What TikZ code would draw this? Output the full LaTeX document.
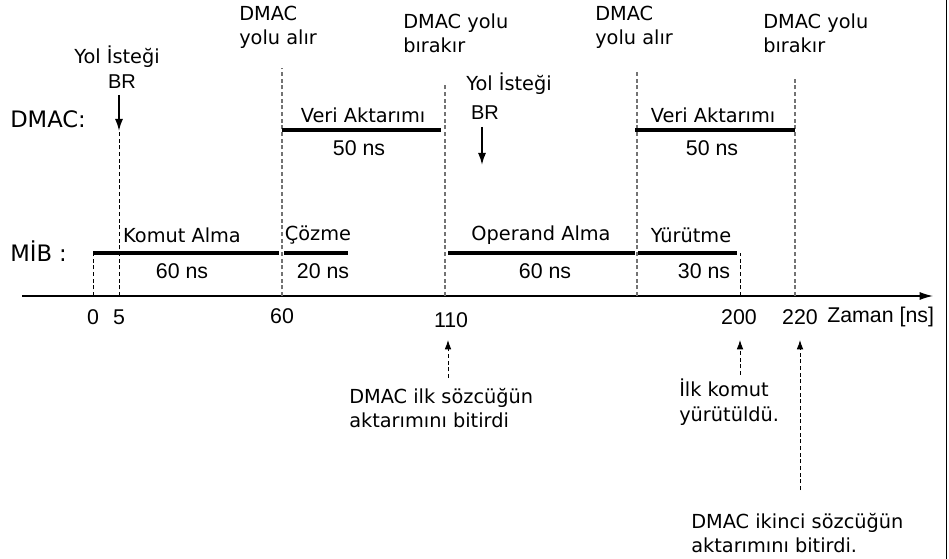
\documentclass[tikz,border=0pt]{standalone}
\usepackage{fontspec}
\newfontfamily\comicf{DejaVu Sans}
\newfontfamily\arialf{Liberation Sans}
\usetikzlibrary{arrows.meta}
\begin{document}
\begin{tikzpicture}[x=0.75pt,y=-0.75pt,
  lab/.style={font=\comicf\fontsize{14.5}{18}\selectfont, inner sep=0pt, align=left},
  rowlab/.style={font=\comicf\fontsize{17}{20}\selectfont, inner sep=0pt, anchor=west},
  num/.style={font=\arialf\fontsize{16}{18}\selectfont, inner sep=0pt},
  bar/.style={line width=3pt},
  gdash/.style={draw=black!55, dash pattern=on 3pt off 2pt, line width=0.8pt},
  bdash/.style={draw=black, dash pattern=on 3pt off 2pt, line width=0.7pt},
  brarrow/.style={-{Latex[length=9pt,width=6pt]}, line width=1.3pt},
  uparrow/.style={-{Latex[length=7pt,width=5pt]}, dash pattern=on 3pt off 2pt, line width=0.7pt},
]
\useasboundingbox (0,0) rectangle (949,559);
\draw[line width=0.8pt] (946.5,0) -- (946.5,559);

% axis
\coordinate (axL) at (22,296);
\coordinate (axR) at (933,296);
\draw[-{Latex[length=10pt,width=6pt]}, line width=0.9pt] (axL) -- (axR);

% axis points
\coordinate (t0) at (93,296);
\coordinate (t5) at (119,296);
\coordinate (t60) at (282,296);
\coordinate (t110) at (445,296);
\coordinate (t170) at (637,296);
\coordinate (t200) at (740,296);
\coordinate (t220) at (795,296);
% upper ends of the vertical guides
\coordinate (u0) at (93,253);
\coordinate (u5) at (119,131);
\coordinate (u60) at (282,68);
\coordinate (u110) at (445,85);
\coordinate (u170) at (637,70);
\coordinate (u200) at (740,253);
\coordinate (u220) at (795,78);

\draw[bdash] (t0) -- (u0);
\draw[bdash] (t5) -- (u5);
\draw[gdash] (t60) -- (u60);
\draw[gdash] (t110) -- (u110);
\draw[gdash] (t170) -- (u170);
\draw[bdash] (t200) -- (u200);
\draw[gdash] (t220) -- (u220);

% tick labels
\node[num] (n0) at (93,317) {0};
\node[num] (n5) at (119,317) {5};
\node[num] (n60) at (282,316) {60};
\node[num] (n110) at (451,320) {110};
\node[num] (n200) at (739,317) {200};
\node[num] (n220) at (800,317) {220};
\node[num, anchor=west] (zaman) at (827,317) {Zaman [ns]};

% row labels
\node[rowlab] (dmac) at (10,119) {DMAC:};
\node[rowlab] (mib) at (10,251) {MİB :};

% MIB bars
\coordinate (m1a) at (93,253);  \coordinate (m1b) at (279,253);
\coordinate (m2a) at (284,253); \coordinate (m2b) at (348,253);
\coordinate (m3a) at (448,253); \coordinate (m3b) at (635,253);
\coordinate (m4a) at (638,253); \coordinate (m4b) at (737,253);
\draw[bar] (m1a) -- (m1b);
\draw[bar] (m2a) -- (m2b);
\draw[bar] (m3a) -- (m3b);
\draw[bar] (m4a) -- (m4b);

\node[lab] (komut) at (182,235) {Komut Alma};
\node[num] (k60) at (182,271) {60 ns};
\node[lab] (cozme) at (318,235) {Çözme};
\node[num] (c20) at (323,271) {20 ns};
\node[lab] (operand) at (541,235) {Operand Alma};
\node[num] (o60) at (545,271) {60 ns};
\node[lab] (yurut) at (691,235) {Yürütme};
\node[num] (y30) at (704,271) {30 ns};

% DMAC bars
\coordinate (d1a) at (282,130); \coordinate (d1b) at (441,130);
\coordinate (d2a) at (635,130); \coordinate (d2b) at (795,130);
\draw[bar] (d1a) -- (d1b);
\draw[bar] (d2a) -- (d2b);
\node[lab] (veri1) at (363,115) {Veri Aktarımı};
\node[num] (v50a) at (359,148) {50 ns};
\node[lab] (veri2) at (713,115) {Veri Aktarımı};
\node[num] (v50b) at (712,148) {50 ns};

% bus requests
\node[lab] (yol1) at (117,57) {Yol İsteği};
\node[num, font=\arialf\fontsize{15}{18}\selectfont] (br1) at (122,82) {BR};
\coordinate (a1s) at (119,95);
\coordinate (a1e) at (119,131);
\draw[brarrow] (a1s) -- (a1e);
\node[lab] (yol2) at (509,84) {Yol İsteği};
\node[num, font=\arialf\fontsize{15}{18}\selectfont] (br2) at (485,113) {BR};
\coordinate (a2s) at (482,127);
\coordinate (a2e) at (482,165);
\draw[brarrow] (a2s) -- (a2e);

% top labels (base = baseline of last line)
\node[lab, anchor=base west] (top1) at (239,45) {DMAC\\yolu alır};
\node[lab, anchor=base west] (top2) at (403,53) {DMAC yolu\\bırakır};
\node[lab, anchor=base west] (top3) at (595,45) {DMAC\\yolu alır};
\node[lab, anchor=base west] (top4) at (763,53) {DMAC yolu\\bırakır};

% bottom notes
\node[lab, anchor=base west] (note1) at (349,427) {DMAC ilk sözcüğün\\aktarımını bitirdi};
\node[lab, anchor=base west] (note2) at (679,421) {İlk komut\\yürütüldü.};
\node[lab, anchor=base west] (note3) at (691,552) {DMAC ikinci sözcüğün\\aktarımını bitirdi.};
\coordinate (b1s) at (448,378); \coordinate (b1e) at (448,340);
\coordinate (b2s) at (740,375); \coordinate (b2e) at (740,340);
\coordinate (b3s) at (800,490); \coordinate (b3e) at (800,340);
\draw[uparrow] (b1s) -- (b1e);
\draw[uparrow] (b2s) -- (b2e);
\draw[uparrow] (b3s) -- (b3e);
\end{tikzpicture}
\end{document}
